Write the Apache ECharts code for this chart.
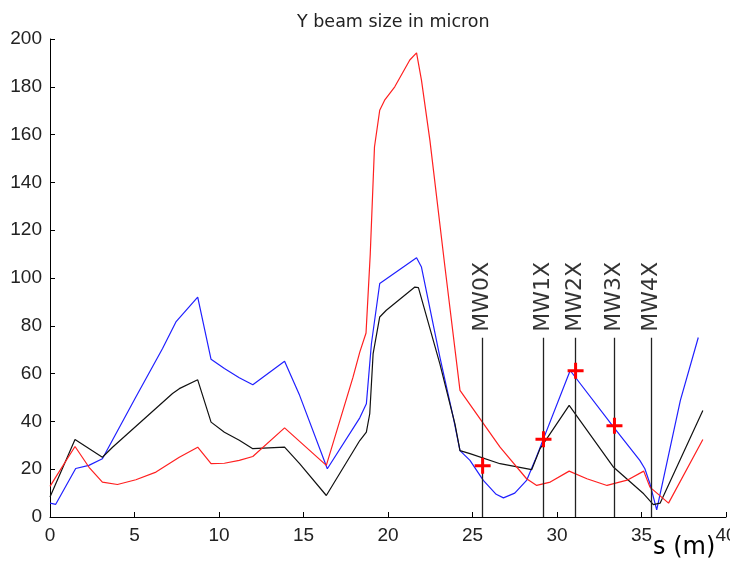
<!DOCTYPE html>
<html>
<head>
<meta charset="utf-8">
<script src="https://cdn.jsdelivr.net/npm/echarts@6/dist/echarts.min.js"></script>
<style>html,body{margin:0;padding:0;background:#fff;}#c{width:730px;height:561px;}</style>
</head>
<body>
<div id="c"></div>
<script>
const titleText = 'Y beam size in micron';
const xAxisName = 's (m)';
const xTicks = {min: 0, max: 40, interval: 5};
const yTicks = {min: 0, max: 200, interval: 20};

const blueLine = [[0,5.8],[0.34,5.3],[1.52,20.3],[2.3,21.6],[3.1,24.4],[5.08,50.2],[6.66,70.5],[7.45,81.6],[8.74,92],[9.53,66],[10.32,62.1],[11.2,58.3],[12.0,55.3],[13.88,65.2],[14.77,50.9],[16.41,20.2],[18.33,41.5],[18.72,47.4],[19.02,72.6],[19.51,97.7],[21.69,108.5],[21.98,104.6],[23.07,66.9],[23.86,41.8],[24.26,27.8],[24.85,23.7],[25.64,15.3],[26.4,9.5],[26.83,8.0],[27.5,10],[28.2,15.3],[28.7,23.7],[30.78,61.3],[33.35,37.6],[34.9,23.7],[35.2,20.2],[35.5,13.9],[35.9,3],[37.3,48.8],[38.36,75.1]];

const blackLine = [[0,8.4],[1.48,32.4],[3.1,25],[3.7,29.2],[7.25,51.7],[7.65,53.7],[8.74,57.4],[9.53,39.7],[10.32,35.5],[11.2,32.1],[12.0,28.6],[13.88,29.2],[14.77,22.3],[16.35,9],[18.33,32],[18.72,35.5],[18.92,43.2],[19.12,68.4],[19.51,83.7],[19.9,86.5],[21.59,96.2],[21.8,96],[23.07,64.1],[23.96,39],[24.26,27.8],[24.85,26.5],[26.63,22.3],[28.5,19.8],[29.0,28.6],[30.72,46.7],[33.35,20.8],[35.13,9.7],[35.7,5.2],[36.1,5.8],[38.63,44.6]];

const redLine = [[0,12.8],[0.34,16.7],[1.48,29.5],[2.31,20.8],[3.1,14.6],[3.99,13.6],[5.08,15.6],[6.27,18.8],[7.65,25],[8.74,29.2],[9.53,22.3],[10.32,22.5],[11.2,23.7],[12.0,25.3],[13.88,37.3],[16.35,21.6],[17.93,58.5],[18.33,69],[18.7,77],[18.95,110],[19.2,154.8],[19.51,170.2],[19.8,174.4],[20.4,180],[21.29,191.2],[21.69,194.2],[21.98,182.8],[22.48,157.6],[23.37,104.6],[24.26,53],[26.63,29.2],[28.2,16],[28.8,13.2],[29.6,14.6],[30.72,19.2],[31.77,16],[32.96,13.2],[34.15,15.4],[35.13,19.2],[35.5,12.5],[36.6,5.8],[38.63,32.4]];

const monitorNames = ['MW0X','MW1X','MW2X','MW3X','MW4X'];
const monitorS = [25.6, 29.2, 31.1, 33.4, 35.55];
const monitorLineTop = 75;
const crossS = [25.6, 29.2, 31.1, 33.4];
const crossV = [21.4, 32.5, 61.2, 38.2];

const chart = echarts.init(document.getElementById('c'), null, {renderer: 'canvas'});
const plus = 'path://M-1.5,-8H1.5V-1.5H8V1.5H1.5V8H-1.5V1.5H-8V-1.5H-1.5Z';
const axisLabelStyle = {color: '#222', fontFamily: 'Liberation Sans', fontSize: 19};

chart.setOption({
  animation: false,
  backgroundColor: '#fff',
  title: {text: titleText, left: 292, top: 8, textStyle: {fontFamily: 'DejaVu Sans', fontSize: 17.5, fontWeight: 'normal', color: '#222'}},
  grid: {left: 50, right: 4, top: 39, bottom: 44, containLabel: false, outerBoundsMode: 'none'},
  xAxis: {type: 'value', min: xTicks.min, max: xTicks.max, interval: xTicks.interval,
    axisLine: {lineStyle: {color: '#000', width: 1}}, axisTick: {inside: true, length: 5, lineStyle: {color: '#000'}},
    splitLine: {show: false}, axisLabel: Object.assign({margin: 9, showMaxLabel: true, hideOverlap: false}, axisLabelStyle)},
  yAxis: {type: 'value', min: yTicks.min, max: yTicks.max, interval: yTicks.interval,
    axisLine: {show: true, lineStyle: {color: '#000', width: 1}}, axisTick: {show: true, inside: true, length: 5, lineStyle: {color: '#000'}},
    splitLine: {show: false}, axisLabel: Object.assign({margin: 8}, axisLabelStyle)},
  graphic: [{type: 'text', left: 653, top: 536, z: 10, style: {text: xAxisName, fontFamily: 'DejaVu Sans', fontSize: 24, fill: '#000'}}],
  series: [
    {type: 'line', data: blueLine, symbol: 'none', lineStyle: {color: '#2020ff', width: 1.2}, z: 3},
    {type: 'line', data: blackLine, symbol: 'none', lineStyle: {color: '#111', width: 1.2}, z: 3},
    {type: 'line', data: redLine, symbol: 'none', lineStyle: {color: '#ff2020', width: 1.2}, z: 3},
    {type: 'scatter', data: monitorS.map((s, i) => ({value: [s, monitorLineTop], name: monitorNames[i]})),
      symbolSize: 0, z: 4,
      label: {show: true, formatter: p => p.name, position: 'top', distance: 6, rotate: 90, align: 'left', verticalAlign: 'middle',
        fontFamily: 'DejaVu Sans', fontSize: 22, color: '#000'},
      markLine: {silent: true, symbol: 'none', label: {show: false}, lineStyle: {color: '#222', width: 1.3, type: 'solid'},
        data: monitorS.map(s => [{coord: [s, 0]}, {coord: [s, monitorLineTop]}])}},
    {type: 'scatter', data: crossS.map((s, i) => [s, crossV[i]]), symbol: plus, symbolSize: 16,
      itemStyle: {color: '#ff0000', opacity: 1}, z: 5}
  ]
});
</script>
</body>
</html>
